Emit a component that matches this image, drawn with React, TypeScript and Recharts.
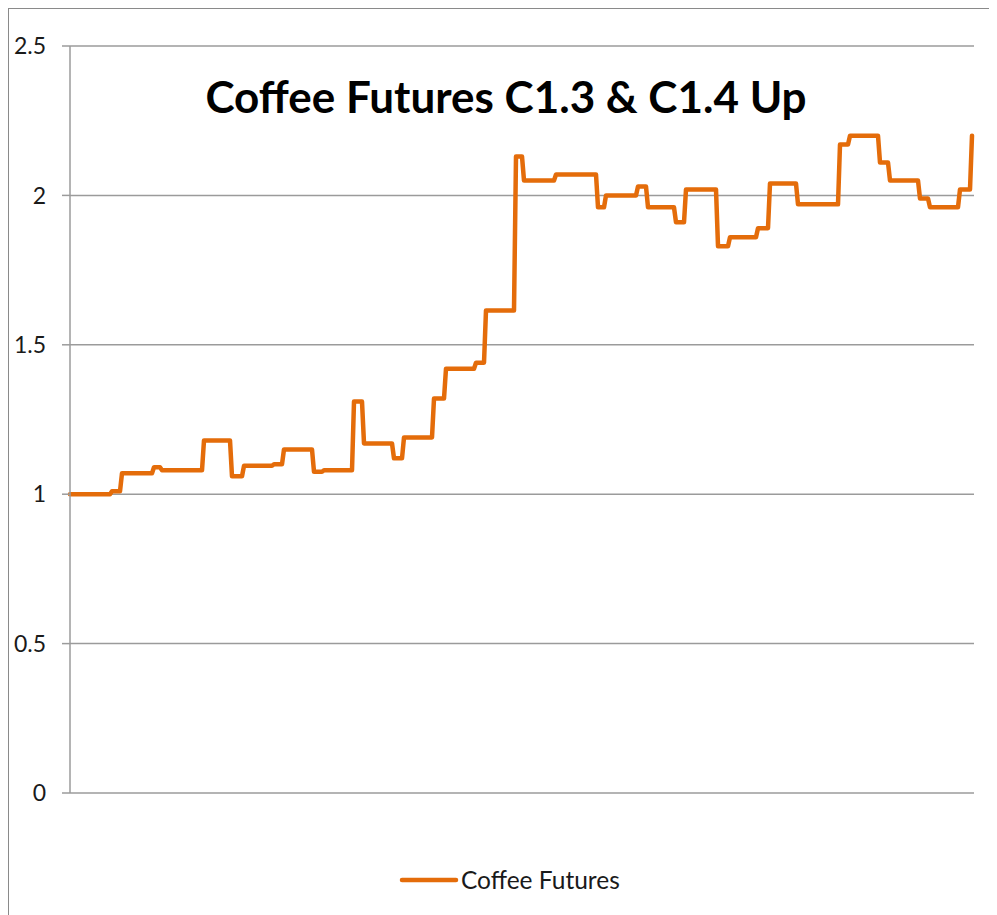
import React from "react";
import { LineChart, Line, XAxis, YAxis, CartesianGrid, Legend } from "recharts";

// Price level held over each run of trading days: a run starts on runStart[i]
// at runLevel[i] and lasts until the day before the next run starts.
const runStart = [
  0, 21, 26, 42, 46, 67, 81, 87, 102, 107,
  122, 127, 142, 147, 162, 167, 182, 188, 203, 208,
  223, 227, 243, 264, 268, 284, 289, 303, 308, 324,
  330, 344, 350, 364, 385, 390, 405, 410, 425, 430,
  445, 451,
];
const runLevel = [
  1.0, 1.01, 1.07, 1.09, 1.08, 1.18, 1.06, 1.095, 1.1, 1.15,
  1.075, 1.08, 1.31, 1.17, 1.12, 1.19, 1.32, 1.42, 1.44, 1.615,
  2.13, 2.05, 2.07, 1.96, 2.0, 2.03, 1.96, 1.91, 2.02, 1.83,
  1.86, 1.89, 2.04, 1.97, 2.17, 2.2, 2.11, 2.05, 1.99, 1.96,
  2.02, 2.2,
];
const lastDay = 452;

const yTicks = [0, 0.5, 1, 1.5, 2, 2.5];
const yTickLabels = ["0", "0.5", "1", "1.5", "2", "2.5"];

const seriesName = "Coffee Futures";
const title = "Coffee Futures C1.3 & C1.4 Up";

const LINE_COLOR = "#E46C0A";
const GRID_COLOR = "#9b9b9b";
const FONT = "Lato, 'Open Sans', sans-serif";

// each run contributes its first and last day
const data = runStart.flatMap((start, i) => {
  const end = i < runStart.length - 1 ? runStart[i + 1] - 1 : start;
  const price = runLevel[i];
  return start === end ? [{ day: start, price }] : [{ day: start, price }, { day: end, price }];
});

const W = 989;
const H = 907;

const LegendContent = () => (
  <div style={{ display: "flex", alignItems: "center", fontFamily: FONT, fontSize: 24.5, color: "#1a1a1a" }}>
    <svg width={60} height={10} style={{ display: "block" }}>
      <line x1={3} y1={5} x2={57} y2={5} stroke={LINE_COLOR} strokeWidth={4.5} strokeLinecap="round" />
    </svg>
    <span style={{ marginLeft: 2 }}>{seriesName}</span>
  </div>
);

export default function App() {
  return (
    <div style={{ position: "relative", width: W, height: H, background: "#fff" }}>
      <div
        style={{
          position: "absolute",
          left: -1,
          top: -1,
          width: W + 1,
          height: H + 1,
          borderTop: "2px solid #8a8a8a",
          borderLeft: "2px solid #8a8a8a",
          boxSizing: "border-box",
        }}
      />
      <LineChart width={W} height={H} data={data} margin={{ top: 38, right: 23, bottom: 122, left: 0 }}>
        <CartesianGrid horizontal vertical={false} stroke={GRID_COLOR} strokeWidth={1.5} />
        <XAxis dataKey="day" type="number" domain={[0, lastDay]} hide />
        <YAxis
          domain={[0, 2.5]}
          ticks={yTicks}
          width={62}
          tickFormatter={(v: number) => yTickLabels[yTicks.indexOf(v)] ?? String(v)}
          axisLine={{ stroke: GRID_COLOR, strokeWidth: 1.5 }}
          tickLine={{ stroke: GRID_COLOR, strokeWidth: 1.5 }}
          tickSize={8}
          tickMargin={16}
          tick={{ fill: "#1a1a1a", fontSize: 23, fontFamily: FONT }}
        />
        <Line
          type="linear"
          dataKey="price"
          name={seriesName}
          stroke={LINE_COLOR}
          strokeWidth={4.5}
          strokeLinejoin="round"
          strokeLinecap="round"
          dot={false}
          activeDot={false}
          isAnimationActive={false}
        />
        <Legend
          layout="horizontal"
          verticalAlign="middle"
          align="center"
          content={LegendContent}
          wrapperStyle={{ position: "absolute", top: 857, left: 391, width: 260, height: 30 }}
        />
      </LineChart>
      <div
        style={{
          position: "absolute",
          left: 0,
          width: 997,
          top: 60,
          textAlign: "center",
          fontFamily: FONT,
          fontWeight: 700,
          fontSize: 44,
          color: "#000",
          lineHeight: "56px",
          whiteSpace: "nowrap",
        }}
      >
        <span style={{ position: "absolute", left: 498, transform: "translateX(-50%)" }}>{title}</span>
      </div>
    </div>
  );
}
